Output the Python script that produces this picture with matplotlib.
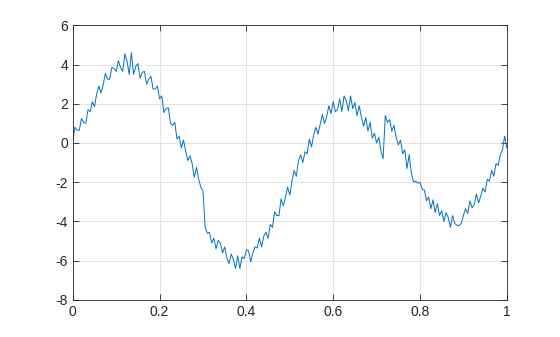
import numpy as np
import matplotlib
matplotlib.use('agg')
import matplotlib.pyplot as plt

plt.rcParams['font.family'] = ['Liberation Sans', 'DejaVu Sans']
plt.rcParams['axes.unicode_minus'] = False

# signal samples, one every 0.005 from 0 to 1
signal = [
    0.1, 0.8, 0.65, 0.65, 1.25, 1.05, 1.0, 1.7, 1.6, 2.1,
    1.85, 2.5, 2.9, 2.55, 2.95, 3.55, 3.25, 3.25, 3.85, 3.8,
    3.65, 4.2, 3.85, 3.65, 4.55, 4.15, 3.5, 4.6, 3.5, 3.9,
    4.05, 3.3, 3.6, 3.65, 3.0, 3.25, 3.4, 2.75, 2.75, 2.9,
    2.25, 2.4, 1.55, 1.75, 1.8, 1.0, 0.9, 1.05, 0.2, 0.35,
    -0.25, 0.15, -0.4, -0.9, -0.65, -1.05, -1.75, -1.25, -1.85, -2.25,
    -2.45, -4.3, -4.6, -4.55, -5.1, -4.85, -5.4, -4.95, -5.1, -5.6,
    -5.3, -5.85, -6.15, -5.65, -5.95, -6.4, -5.75, -6.4, -5.8, -5.9,
    -5.45, -5.5, -6.05, -5.6, -5.3, -5.35, -4.85, -5.3, -4.75, -4.55,
    -4.85, -4.15, -4.3, -3.5, -3.7, -3.7, -2.85, -3.2, -2.75, -2.25,
    -2.65, -1.95, -1.4, -1.7, -0.9, -0.6, -1.0, -0.45, -0.55, 0.2,
    -0.2, 0.4, 0.8, 0.45, 0.95, 1.45, 1.0, 1.35, 1.9, 1.5,
    2.1, 1.6, 1.7, 2.25, 1.6, 2.4, 2.15, 1.65, 2.4, 1.75,
    2.05, 1.4, 1.9, 1.3, 0.85, 1.3, 0.6, 1.05, 0.25, 0.5,
    0.0, 0.3, -0.4, -0.8, 1.4, 1.05, 1.2, 0.6, 0.9, 0.3,
    -0.1, 0.15, -0.55, -0.35, -1.3, -0.6, -1.5, -2.0, -1.95, -2.05,
    -2.0, -2.35, -2.4, -2.95, -2.75, -3.35, -2.9, -3.55, -3.1, -3.7,
    -3.45, -4.0, -3.55, -3.8, -4.3, -3.7, -4.1, -4.2, -4.2, -4.1,
    -3.7, -3.35, -3.6, -2.95, -3.3, -3.15, -2.6, -3.05, -2.7, -2.3,
    -2.5, -1.85, -1.95, -1.4, -1.7, -1.05, -1.15, -0.6, -0.35, 0.35,
    -0.25,
]
t = np.linspace(0, 1, len(signal))

xticks = [0, 0.2, 0.4, 0.6, 0.8, 1]
xticklabels = ['0', '0.2', '0.4', '0.6', '0.8', '1']
yticks = [-8, -6, -4, -2, 0, 2, 4, 6]

fig = plt.figure(figsize=(5.6, 3.37), dpi=100)
ax = fig.add_axes([0.13, 0.11, 0.775, 0.815])
ax.plot(t, signal, color='#0072BD', lw=0.7)

ax.set_xlim(0, 1)
ax.set_ylim(-8, 6)
ax.set_xticks(xticks)
ax.set_xticklabels(xticklabels)
ax.set_yticks(yticks)
ax.grid(True, color='#DFDFDF', lw=0.6)
ax.set_axisbelow(True)
ax.tick_params(direction='in', top=True, right=True, length=4, width=0.6,
               color='#262626', labelcolor='#262626', labelsize=10)
for s in ax.spines.values():
    s.set_color('#262626')
    s.set_linewidth(0.6)

fig.savefig('out.png', dpi=100)
